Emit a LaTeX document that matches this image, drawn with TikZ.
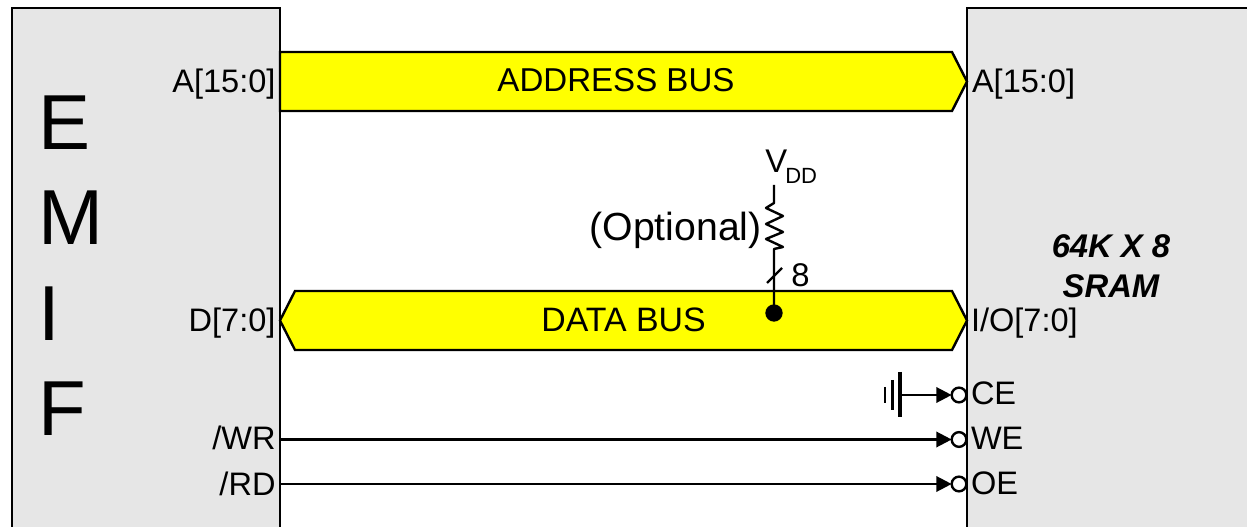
\documentclass[tikz,border=0pt]{standalone}
\usepackage{fontspec}
\setmainfont{Liberation Sans}
\usetikzlibrary{arrows.meta}
\tikzset{
  x=0.75pt,y=-0.75pt,
  line join=miter,
  chip/.style={fill=chipgray,draw=none},
  chipedge/.style={draw=black,line width=1.8pt},
  busshape/.style={fill=busyellow,draw=black,line width=1.8pt,line join=miter},
  pin/.style={font=\fontsize{24.4pt}{29pt}\selectfont,inner sep=0pt,inner xsep=3.75pt,outer sep=0pt},
  buslabel/.style={font=\fontsize{24.8pt}{29pt}\selectfont,inner sep=0pt,anchor=base},
  chipletter/.style={font=\fontsize{58.5pt}{70pt}\selectfont,inner sep=0pt,anchor=base west},
  chipname/.style={font=\fontsize{24.6pt}{29pt}\selectfont\bfseries\itshape,inner sep=0pt,anchor=base},
  bubble/.style={circle,draw=black,fill=white,line width=1.8pt,minimum size=11pt,inner sep=0pt,outer sep=0pt},
  signal/.style={draw=black,line width=1.8pt,-{Triangle[length=11.5pt,width=11.5pt]}},
  wire/.style={draw=black,line width=1.8pt},
  plate/.style={draw=black,line width=2.2pt},
}
\definecolor{chipgray}{HTML}{E6E6E6}
\definecolor{busyellow}{HTML}{FFFF00}
\begin{document}
\begin{tikzpicture}
\useasboundingbox (0,0) rectangle (1247,527);
\fill[white] (0,0) rectangle (1247,527);
% chips
\path[chip] (12,8) rectangle (280,527);
\path[chip] (967,8) rectangle (1247,527);
\draw[chipedge] (12,527) -- (12,8) -- (280,8) -- (280,527);
\draw[chipedge] (1247,8) -- (967,8) -- (967,527);
% buses
\draw[busshape] (280,52) -- (952,52) -- (967,81.5) -- (952,111) -- (280,111) -- cycle;
\draw[busshape] (280,320.5) -- (295,291) -- (952,291) -- (967,320.5) -- (952,350) -- (295,350) -- cycle;
\node[buslabel] (addr) at (616,92) {ADDRESS BUS};
\node[buslabel,font=\fontsize{25.4pt}{29pt}\selectfont] (data) at (623.5,332) {DATA BUS};
% chip text
\node[chipletter] (e) at (38,149.5) {E};
\node[chipletter] (m) at (38,244.5) {M};
\node[chipletter] (i) at (38,340.5) {I};
\node[chipletter] (f) at (38,435.5) {F};
\node[chipname] (size) at (1111,258) {64K X 8};
\node[chipname] (sram) at (1111,298) {SRAM};
% pins left
\node[pin,anchor=base east] (la) at (280.5,93) {A[15:0]};
\node[pin,anchor=base east] (ld) at (280.5,332) {D[7:0]};
\node[pin,anchor=base east] (wr) at (280.5,450) {/WR};
\node[pin,anchor=base east] (rd) at (280.5,495) {/RD};
% pins right
\node[pin,anchor=base west] (ra) at (967,93) {A[15:0]};
\node[pin,anchor=base west] (rio) at (966,332) {I/O[7:0]};
\node[pin,anchor=base west] (ce) at (966,405) {CE};
\node[pin,anchor=base west] (we) at (966,450) {WE};
\node[pin,anchor=base west] (oe) at (966,494) {OE};
% bubbles
\node[bubble] (bce) at (959,395) {};
\node[bubble] (bwe) at (959,439.5) {};
\node[bubble] (boe) at (959,484) {};
% control signals
\coordinate (wrs) at (280,439.5);
\coordinate (rds) at (280,484);
\draw[signal] (wrs) -- (bwe.west);
\draw[signal] (rds) -- (boe.west);
% ground
\coordinate (g1) at (900,395);
\draw[signal] (g1) -- (bce.west);
\draw[plate,line width=2.5pt] (900,372) -- (900,417);
\draw[plate] (892.5,380) -- (892.5,410);
\draw[plate] (885,387) -- (885,403);
% VDD branch
\node[inner sep=0pt,anchor=base west,font=\fontsize{24.6pt}{29pt}\selectfont] (vdd) at (765,173) {V};
\node[inner sep=0pt,anchor=base west,font=\fontsize{16.5pt}{20pt}\selectfont] (dd) at (785,184) {DD};
\node[inner sep=0pt,anchor=base east,font=\fontsize{29.4pt}{34pt}\selectfont] (opt) at (762,241) {(Optional)};
\node[inner sep=0pt,anchor=base west,font=\fontsize{24.6pt}{29pt}\selectfont] (eight) at (791,287) {8};
\coordinate (vtop) at (774,185);
\node[circle,fill=black,minimum size=13pt,inner sep=0pt,outer sep=0pt] (dot) at (774,313) {};
\draw[wire,line join=round] (vtop) -- (774,203) -- (766,208) -- (783,216) -- (766,224) -- (783,232) -- (766,239) -- (783,247) -- (774,249) -- (dot.center);
\draw[wire] (767,283) -- (782,268);
\end{tikzpicture}
\end{document}
